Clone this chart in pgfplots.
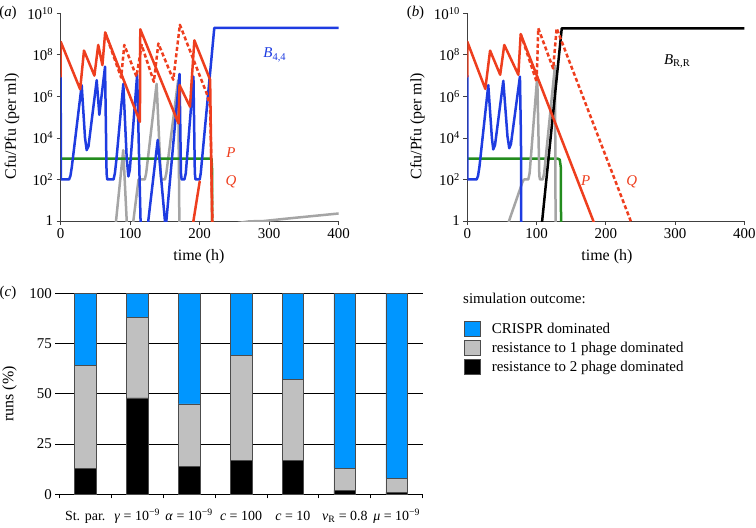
\documentclass[border=0pt]{standalone}
\usepackage{fontspec}
\setmainfont{Liberation Serif}
\usepackage{pgfplots}
\pgfplotsset{compat=1.18}
\newcommand\fs{\fontsize{14}{16.8}\selectfont}
\newcommand\fm{\fontsize{15}{18}\selectfont}
\newcommand\fl{\fontsize{16}{19.2}\selectfont}
\definecolor{cred}{RGB}{238,62,30}
\definecolor{cblue}{RGB}{30,60,225}
\definecolor{cgreen}{RGB}{35,140,30}
\definecolor{cgrey}{RGB}{165,165,165}
\definecolor{bblue}{RGB}{0,150,255}
\definecolor{bgrey}{RGB}{192,192,192}
\tikzset{ln/.style={line width=2.5bp, line join=round, line cap=round}}
\begin{document}
\begin{tikzpicture}[font=\fm]
\path[use as bounding box] (0,0) rectangle (756bp,-528bp);
% ---------------- panel (a)
\begin{axis}[scale only axis, width=278bp, height=207.7bp,
    at={(60.7bp,-221bp)}, anchor=south west,
    xmin=0, xmax=400, ymin=1, ymax=1e10, ymode=log,
    clip mode=individual,
    axis x line*=bottom, axis y line*=left,
    axis line style={-, black!75, line width=0.8bp},
    xtick={0,100,200,300,400},
    ytick={1,1e2,1e4,1e6,1e8,1e10},
    yticklabels={1,10\textsuperscript{2},10\textsuperscript{4},10\textsuperscript{6},10\textsuperscript{8},10\textsuperscript{10}},
    yminorticks=false,
    tick align=outside, major tick length=4bp,
    tick style={black!75, line width=0.8bp},
    tick label style={font=\fm},
    /pgf/number format/assume math mode=true,
    label style={font=\fl},
    xlabel={time (h)}, ylabel={Cfu/Pfu (per ml)},
    xlabel style={at={(axis description cs:0.497,-0.173)}, anchor=center},
    ylabel style={at={(axis description cs:-0.175,0.457)}, anchor=center}]
\addplot[ln, no markers, cgrey] coordinates {(78,0.1)(79.6,1)(90,2.6e3)(95,1)(96,0.1)(103,0.1)(104.5,1)(112,1e2)(121,1e2)(123,2e2)(138,4e6)(144,1.5e2)(145,1e2)(150,1e2)(152,2e2)(169,6e6)(171,0.1)};
\addplot[ln, no markers, cgrey] coordinates {(255,0.8)(272,0.97)(290,0.98)(320,1.25)(360,1.7)(400,2.3)};
\addplot[ln, no markers, cgreen] coordinates {(0,1e3)(217,1e3)(217.8,3e2)(218,0.1)};
\addplot[ln, no markers, cblue] coordinates {(0,1e7)(0.2,1e2)(12,1e2)(14,1.5e2)(16,4e2)(30.2,3.5e6)(35,1e4)(37.4,2.6e3)(40,4e3)(51.8,6e6)(55.6,1.3e5)(63.8,2.7e7)(66,2e2)(67,1e2)(76,1e2)(78,2e2)(80,8e2)(90.1,4e6)(95,1e3)(97.4,1.4e2)(99.5,3e2)(110,1.1e7)(115.6,0.1)(124,0.1)(126,1)(139.6,8e3)(150,1)(151,0.1)(152,1)(171,1.2e7)(173,2e2)(174,1e2)(178,1e2)(180,2e2)(191,9e6)(193,2e2)(194,1e2)(200,1e2)(201.5,2e2)(221,2e9)(400,2e9)};
\addplot[ln, no markers, cred, dash pattern=on 4bp off 2.5bp, line cap=butt] coordinates {(64,1.2e9)(87,8e6)(91.5,3e8)(109,9e6)(116.5,3e8)(134,5e6)(140.5,3.5e8)(162,6.3e6)(171.5,2.8e9)(210,1.4e6)(215,3.2e5)(219,0.1)};
\addplot[ln, no markers, cred] coordinates {(0,9e6)(0,4.3e8)(28,2.2e6)(33.5,1.6e8)(48.5,1e7)(54,3e8)(60,3.2e7)(64,1.2e9)(114,6e4)(114.5,1.7e9)(169.5,5e4)(171,3.5e6)(186,3.2e5)(192.3,5e8)(215,6.3e6)(218.3,0.1)};
\addplot[ln, no markers, cred] coordinates {(190.5,0.8)(200,80)};
\node[cblue] at (axis cs:308,1e8) {\textit{B}\textsubscript{4,4}};
\node[cred] at (axis cs:245,1.9e3) {\textit{P}};
\node[cred] at (axis cs:245,75) {\textit{Q}};
\end{axis}
% ---------------- panel (b)
\begin{axis}[scale only axis, width=277bp, height=207.7bp,
    at={(467.3bp,-221bp)}, anchor=south west,
    xmin=0, xmax=400, ymin=1, ymax=1e10, ymode=log,
    clip mode=individual,
    axis x line*=bottom, axis y line*=left,
    axis line style={-, black!75, line width=0.8bp},
    xtick={0,100,200,300,400},
    ytick={1,1e2,1e4,1e6,1e8,1e10},
    yticklabels={1,10\textsuperscript{2},10\textsuperscript{4},10\textsuperscript{6},10\textsuperscript{8},10\textsuperscript{10}},
    yminorticks=false,
    tick align=outside, major tick length=4bp,
    tick style={black!75, line width=0.8bp},
    tick label style={font=\fm},
    /pgf/number format/assume math mode=true,
    label style={font=\fl},
    xlabel={time (h)}, ylabel={Cfu/Pfu (per ml)},
    xlabel style={at={(axis description cs:0.504,-0.173)}, anchor=center},
    ylabel style={at={(axis description cs:-0.18,0.457)}, anchor=center}]
\addplot[ln, no markers, cgreen] coordinates {(0,1e3)(131,1e3)(133.5,9e2)(135,4e2)(135.5,0.1)};
\addplot[ln, no markers, cgrey] coordinates {(58,0.1)(60.2,1)(80,8e1)(82,1e2)(88,1e2)(90,2e2)(101,9e6)(104,1.5e2)(105,1e2)(109,1e2)(111,2e2)(126.6,3e7)(127.6,0.1)};
\addplot[ln, no markers, cblue] coordinates {(0,1e7)(0.2,1e2)(13.5,1e2)(15.5,1.5e2)(17.5,4e2)(30.3,3.5e6)(35.5,1e4)(37.5,2.8e3)(40,4.5e3)(52,5.6e6)(58,1.2e4)(60.6,3.2e3)(63,5e3)(76,9e6)(77.5,1e4)(78,0.1)};
\addplot[ln, no markers, black] coordinates {(106.5,0.3)(136.4,1.9e9)(400,1.9e9)};
\addplot[ln, no markers, cred, dash pattern=on 4bp off 2.5bp, line cap=butt] coordinates {(77.1,1e9)(100.1,5e6)(102.5,1.9e9)(124,2.2e7)(129,1.9e9)(236,1)(238,0.7)};
\addplot[ln, no markers, cred] coordinates {(0,9e6)(0,4.3e8)(26,2.3e6)(32.9,1.6e8)(47.5,1.1e7)(53.4,3e8)(73.7,1.1e7)(77.1,1e9)(182,1)(185,0.5)};
\node at (axis cs:303,4.7e7) {\textit{B}\textsubscript{R,R}};
\node[cred] at (axis cs:171,93) {\textit{P}};
\node[cred] at (axis cs:237.4,75) {\textit{Q}};
\end{axis}
% ---------------- panel (c)
\begin{axis}[scale only axis, width=363.4bp, height=201bp,
  at={(59.3bp,-494.3bp)}, anchor=south west,
  xmin=-0.5, xmax=6.5, ymin=0, ymax=100,
  ybar stacked, bar width=21.7bp,
  axis x line*=bottom, axis y line*=left,
  x axis line style={-, black, line width=0.8bp},
  y axis line style={draw=none},
  xtick={-0.5,0.5,1.5,2.5,3.5,4.5,5.5,6.5}, xticklabels={},
  extra x ticks={0,1,2,3,4,5,6},
  extra x tick labels={St. par., \textit{γ} = 10\textsuperscript{−9}, \textit{α} = 10\textsuperscript{−9}, \textit{c} = 100, \textit{c} = 10, \textit{ν}\textsubscript{R} = 0.8, \textit{μ} = 10\textsuperscript{−9}},
  extra x tick style={major tick length=0pt, tick label style={anchor=base, yshift=-26bp, font=\fs}},
  ytick={0,25,50,75,100},
  tick align=outside, major tick length=4bp,
  tick style={black, line width=0.8bp},
  tick label style={font=\fm},
  /pgf/number format/assume math mode=true,
  ymajorgrids, grid style={black, line width=0.8bp},
  ylabel={runs (\%)}, label style={font=\fl},
  ylabel style={at={(axis description cs:-0.137,0.5)}, anchor=center},
  legend style={draw=none, fill=none, at={(1.1137,0.8637)}, anchor=north west,
    inner sep=0pt, row sep=3.5bp, font=\fm, cells={anchor=west},
    nodes={inner sep=1bp},
    /tikz/every odd column/.append style={column sep=10bp}},
  legend image code/.code={\draw[#1, draw=black!70, line width=0.6bp] (0bp,-7.5bp) rectangle (16bp,7.5bp);},
  reverse legend,
]
\addplot[fill=black, draw=black!70, line width=0.6bp] coordinates {(0,13)(1,48)(2,14)(3,17)(4,17)(5,2)(6,1)};
\addplot[fill=bgrey, draw=black!70, line width=0.6bp] coordinates {(0,51)(1,40)(2,31)(3,52)(4,40)(5,11)(6,7)};
\addplot[fill=bblue, draw=black!70, line width=0.6bp] coordinates {(0,36)(1,12)(2,55)(3,31)(4,43)(5,87)(6,92)};
\legend{resistance to 2 phage dominated, resistance to 1 phage dominated, CRISPR dominated}
\end{axis}
\node[anchor=west, inner sep=0pt] at (463bp,-298bp) {simulation outcome:};
\node at (8bp,-13bp) {(\textit{a})};
\node at (415.5bp,-13bp) {(\textit{b})};
\node at (8bp,-293bp) {(\textit{c})};
\end{tikzpicture}
\end{document}
